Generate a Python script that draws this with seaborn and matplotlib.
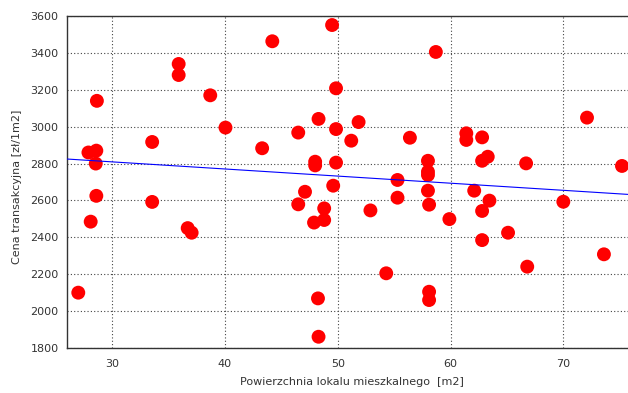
import numpy as np
import pandas as pd
import matplotlib
matplotlib.use("Agg")
import matplotlib.pyplot as plt
import seaborn as sns

area = [27.0, 27.9, 28.6, 28.55, 28.65, 28.6, 28.1, 33.55, 33.55, 35.9, 35.9, 38.7, 40.05,
        36.7, 37.05, 43.3, 44.2, 46.5, 47.1, 46.5, 47.9, 48.0, 48.0, 48.3, 49.5, 49.85,
        49.85, 51.85, 51.2, 49.85, 56.4, 58.7, 58.0, 58.0, 58.0, 55.3, 55.3, 58.0, 58.1,
        49.6, 48.8, 48.8, 52.9, 59.9, 54.3, 58.1, 58.1, 48.25, 48.3, 62.1, 61.4, 61.4,
        62.8, 62.8, 63.3, 66.7, 72.1, 75.2, 63.45, 62.8, 70.0, 65.1, 62.8, 73.6, 66.8]
price = [2100, 2860, 2870, 2800, 3140, 2625, 2485, 2917, 2592, 3340, 3280, 3170, 2995,
         2450, 2425, 2883, 3463, 2968, 2647, 2579, 2480, 2810, 2790, 3042, 3551, 3208,
         2987, 3025, 2924, 2805, 2940, 3405, 2815, 2756, 2738, 2711, 2615, 2653, 2577,
         2680, 2557, 2494, 2546, 2499, 2205, 2105, 2060, 2069, 1861, 2653, 2964, 2928,
         2942, 2815, 2837, 2801, 3049, 2787, 2599, 2543, 2593, 2425, 2385, 2308, 2241]

x_ticks = [30, 40, 50, 60, 70]
y_ticks = [1800, 2000, 2200, 2400, 2600, 2800, 3000, 3200, 3400, 3600]

df = pd.DataFrame({"area": area, "price": price})

sns.set_style("white")
plt.rcParams["font.family"] = ["DejaVu Sans"]

fig = plt.figure(figsize=(6.28, 3.93), dpi=100)
ax = fig.add_axes([67 / 628, 45 / 393, 564 / 628, 332 / 393])
ax.set_xlim(26, 76)
ax.set_ylim(1800, 3600)

sns.scatterplot(data=df, x="area", y="price", ax=ax, color="#ff0000", s=100,
                edgecolor="none", linewidth=0, zorder=3, clip_on=False)
sns.regplot(data=df, x="area", y="price", ax=ax, scatter=False, ci=None,
            truncate=False, line_kws={"color": "#0000ff", "lw": 0.8, "zorder": 4})

ax.set_xlim(26, 76)
ax.set_ylim(1800, 3600)
ax.set_xticks(x_ticks)
ax.set_yticks(y_ticks)
ax.grid(True, color="#444444", linestyle=(0, (1, 2)), linewidth=0.8)
ax.set_axisbelow(True)
for side in ["left", "bottom", "top", "right"]:
    ax.spines[side].set_color("#333333")
    ax.spines[side].set_linewidth(1.0)
ax.tick_params(axis="both", length=0, labelsize=8, colors="#333333", pad=6)
ax.tick_params(axis="x", pad=8)
ax.set_xlabel("Powierzchnia lokalu mieszkalnego  [m2]", fontsize=8, color="#333333")
ax.set_ylabel("Cena transakcyjna [zł/1m2]", fontsize=8, color="#333333")
ax.xaxis.set_label_coords(0.505, -0.088)
ax.yaxis.set_label_coords(-0.079, 0.485)

fig.savefig("out.png", dpi=100)
